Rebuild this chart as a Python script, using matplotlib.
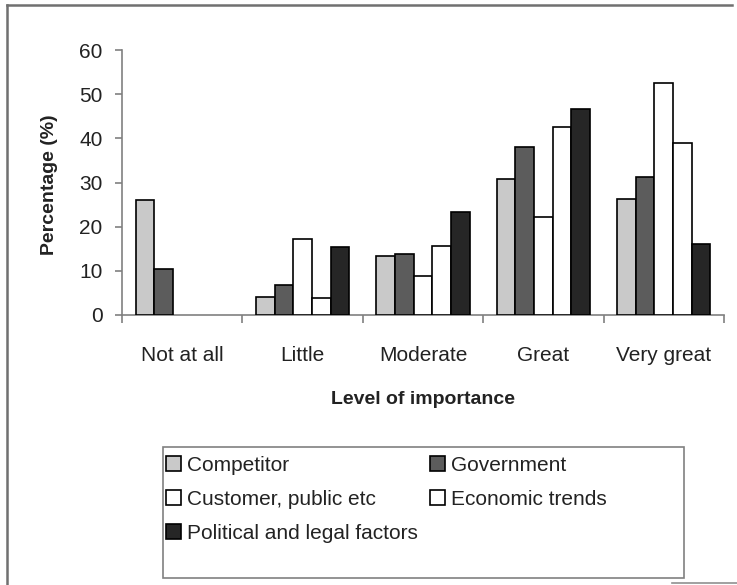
import numpy as np
import matplotlib
matplotlib.use('Agg')
import matplotlib.pyplot as plt
from matplotlib.patches import Rectangle
from matplotlib.lines import Line2D

plt.rcParams['font.family'] = ['Liberation Sans', 'DejaVu Sans']

categories = ['Not at all', 'Little', 'Moderate', 'Great', 'Very great']
series_names = ['Competitor', 'Government', 'Customer, public etc',
                'Economic trends', 'Political and legal factors']
competitor = [26.0, 4.1, 13.3, 30.7, 26.2]
government = [10.5, 6.9, 13.9, 38.0, 31.2]
customer = [0, 17.2, 8.8, 22.1, 52.6]
economic = [0, 3.9, 15.7, 42.5, 38.9]
political = [0, 15.5, 23.4, 46.6, 16.0]
yticks = [0, 10, 20, 30, 40, 50, 60]

values = [competitor, government, customer, economic, political]
colors = ['#c9c9c9', '#5c5c5c', '#ffffff', '#ffffff', '#262626']

W, H = 737, 585
fig = plt.figure(figsize=(W / 100, H / 100), dpi=100)
ax = fig.add_axes([122 / W, (H - 315) / H, 602 / W, 265 / H])

x = np.arange(len(categories))
bw = 0.155
bars = []
for i, (vals, c) in enumerate(zip(values, colors)):
    lws = [1.2 if v > 0 else 0 for v in vals]
    b = ax.bar(x + (i - 2) * bw, vals, bw, color=c, edgecolor='black',
               linewidth=lws, label=series_names[i], zorder=3)
    bars.append(b)

ax.set_xlim(-0.5, len(categories) - 0.5)
ax.set_ylim(0, 60)
ax.set_yticks(yticks)
ax.set_xticks(x)
ax.set_xticklabels(categories)
ax.set_xticks(np.arange(len(categories) + 1) - 0.5, minor=True)
ax.tick_params(axis='x', which='major', length=0, pad=22, labelsize=15, colors='#222222')
ax.tick_params(axis='x', which='minor', length=6, width=1.2, color='#808080')
ax.tick_params(axis='y', length=5, width=1.2, color='#808080', pad=9, labelsize=15,
               labelcolor='#222222')
for s in ['top', 'right']:
    ax.spines[s].set_visible(False)
for s in ['left', 'bottom']:
    ax.spines[s].set_color('#808080')
    ax.spines[s].set_linewidth(1.2)

fig.text(50 / W, 1 - 185 / H, 'Percentage (%)', rotation=90, ha='center', va='center',
         fontsize=14, fontweight='bold', color='#222222')
fig.text(423 / W, 1 - 400 / H, 'Level of importance', ha='center', va='center',
         fontsize=14, fontweight='bold', color='#222222')

# legend, filled row by row
order = [0, 2, 4, 1, 3]
handles = [Rectangle((0, 0), 1, 1, facecolor=colors[i], edgecolor='black', linewidth=1.2)
           for i in order]
labels = [series_names[i] for i in order]
leg = fig.legend(handles, labels, loc='upper left', bbox_to_anchor=(166 / W, 1 - 456 / H),
                 ncol=2, frameon=False, fontsize=15, handlelength=0.7, handleheight=0.7,
                 handletextpad=0.3, labelspacing=0.72, columnspacing=0.6,
                 borderpad=0, borderaxespad=0)
for t in leg.get_texts():
    t.set_color('#222222')

fig.patches.append(Rectangle((163 / W, 1 - 578 / H), (684 - 163) / W, (578 - 447) / H,
                             transform=fig.transFigure, fill=False, edgecolor='#808080',
                             linewidth=1.2))

# page frame
fig.lines.append(Line2D([7 / W, 7 / W], [0, 1 - 5 / H], transform=fig.transFigure,
                        color='#707070', linewidth=1.8))
fig.lines.append(Line2D([7 / W, 732 / W], [1 - 5 / H, 1 - 5 / H], transform=fig.transFigure,
                        color='#707070', linewidth=1.8))
fig.lines.append(Line2D([672 / W, 1], [1 - 583 / H, 1 - 583 / H], transform=fig.transFigure,
                        color='#909090', linewidth=1.2))

fig.savefig('out.png', dpi=100)
